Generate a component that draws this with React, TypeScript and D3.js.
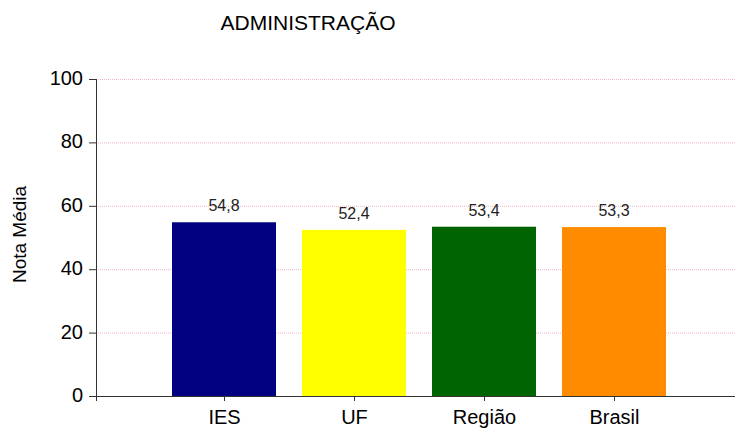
import React from "react";
import * as d3 from "d3";

const categories = ["IES", "UF", "Região", "Brasil"];
const values = [54.8, 52.4, 53.4, 53.3];
const valueLabels = ["54,8", "52,4", "53,4", "53,3"];
const colors = ["#000080", "#FFFF00", "#006400", "#FF8C00"];
const yTicks = [0, 20, 40, 60, 80, 100];

export default function App() {
  const width = 735;
  const height = 428;
  const font = "Liberation Sans, Arial, sans-serif";

  const x = d3
    .scaleBand()
    .domain(categories)
    .range([159, 679])
    .paddingInner(0.2)
    .paddingOuter(0.1);
  const y = d3.scaleLinear().domain([0, 100]).range([396, 79]);
  const axisLeft = 96;

  return (
    <svg
      width={width}
      height={height}
      style={{ position: "absolute", left: 0, top: 0, background: "#fff" }}
      fontFamily={font}
    >
      <text x={308} y={30} textAnchor="middle" fontSize={21} fill="#000">
        ADMINISTRAÇÃO
      </text>

      {/* grid */}
      {yTicks.filter((t) => t > 0).map((t) => (
        <line
          key={"g" + t}
          x1={axisLeft}
          x2={width}
          y1={y(t) + 0.5}
          y2={y(t) + 0.5}
          stroke="#f4b6c2"
          strokeWidth={1}
          strokeDasharray="1,1"
        />
      ))}

      {/* bars */}
      {categories.map((c, i) => (
        <g key={c}>
          <rect
            x={x(c)}
            y={y(values[i])}
            width={x.bandwidth()}
            height={y(0) - y(values[i])}
            fill={colors[i]}
          />
          <text
            x={(x(c) ?? 0) + x.bandwidth() / 2}
            y={y(values[i]) - 11}
            textAnchor="middle"
            fontSize={16}
            fill="#222"
          >
            {valueLabels[i]}
          </text>
        </g>
      ))}

      {/* y axis */}
      <line x1={axisLeft + 0.5} x2={axisLeft + 0.5} y1={y(100)} y2={y(0) + 5} stroke="#333" />
      {yTicks.map((t) => (
        <g key={"t" + t}>
          <line x1={axisLeft - 7} x2={axisLeft} y1={y(t) + 0.5} y2={y(t) + 0.5} stroke="#333" />
          <text
            x={axisLeft - 13}
            y={y(t)}
            dy="0.3em"
            textAnchor="end"
            fontSize={20}
            fill="#000"
          >
            {t}
          </text>
        </g>
      ))}

      {/* x axis */}
      <line x1={axisLeft} x2={width} y1={y(0) + 0.5} y2={y(0) + 0.5} stroke="#333" />
      {categories.map((c) => {
        const cx = Math.round((x(c) ?? 0) + x.bandwidth() / 2) + 0.5;
        return (
          <g key={"x" + c}>
            <line x1={cx} x2={cx} y1={y(0)} y2={y(0) + 5} stroke="#333" />
            <text x={cx} y={y(0) + 28} textAnchor="middle" fontSize={20} fill="#000">
              {c}
            </text>
          </g>
        );
      })}

      <text
        transform={`translate(26, ${(y(0) + y(100)) / 2 - 3}) rotate(-90)`}
        textAnchor="middle"
        fontSize={19}
        fill="#000"
      >
        Nota Média
      </text>
    </svg>
  );
}
